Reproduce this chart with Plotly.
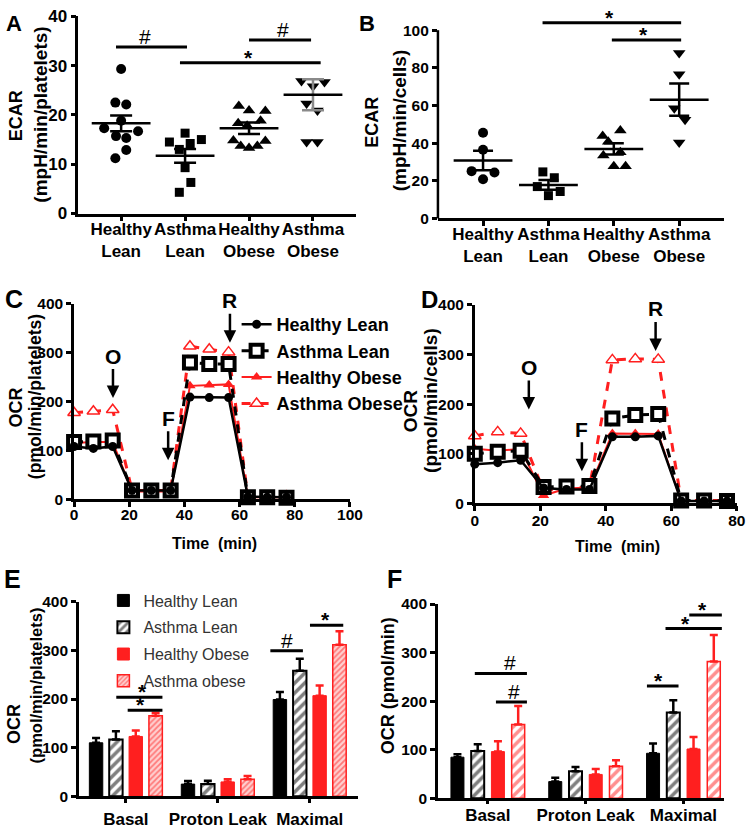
import plotly.graph_objects as go

W, H = 750, 830
FONT = "Arial, 'Liberation Sans', Helvetica, sans-serif"
RED = "#ff1f1f"
GRAY = "#8a8a8a"


def px(v):
    return v / W


def py(v):
    return 1 - v / H


# ---------------- data ----------------
groups = ["Healthy Lean", "Asthma Lean", "Healthy Obese", "Asthma Obese"]
group_ticks = ["Healthy<br>Lean", "Asthma<br>Lean", "Healthy<br>Obese", "Asthma<br>Obese"]

# Panel A: ECAR (mpH/min/platelets), individual subjects + jitter (category units)
a_hl = [29.3, 22.5, 22.1, 18.8, 17.3, 16.7, 15.7, 15.3, 12.9, 11.2]
a_hl_dx = [0, -0.09, 0.08, 0, -0.265, 0.265, -0.08, 0.08, 0.08, -0.09]
a_al = [16.3, 14.5, 15.0, 14.2, 13.0, 9.3, 6.3, 4.3]
a_al_dx = [0, -0.245, 0.255, 0.08, -0.09, 0, 0.09, -0.09]
a_ho = [21.8, 20.9, 20.8, 18.3, 17.8, 18.8, 14.8, 13.7, 13.3, 13.7, 14.7]
a_ho_dx = [-0.16, 0, 0.255, -0.17, -0.03, 0.18, -0.245, -0.13, 0, 0.13, 0.255]
a_ao = [26.9, 25.8, 26.7, 22.3, 20.9, 14.5, 14.5]
a_ao_dx = [-0.18, 0, 0.18, -0.1, 0.07, -0.1, 0.07]
a_mean = [18.3, 11.7, 17.3, 24.1]
a_sem = [1.6, 1.4, 1.15, 3.15]

# Panel B: ECAR (mpH/min/cells)
b_hl = [45.5, 36.5, 25.1, 24.4, 20.8]
b_hl_dx = [0, 0, -0.175, 0.175, 0]
b_al = [24.7, 21.6, 16.9, 14.3, 12.1]
b_al_dx = [-0.085, 0.09, -0.17, 0.18, 0]
b_ho = [46.7, 43.8, 40.7, 35.1, 33.4, 27.7, 27.7]
b_ho_dx = [0.1, -0.17, -0.085, 0.1, -0.16, 0, 0.18]
b_ao = [87.9, 76.6, 58.5, 52.4, 40.3]
b_ao_dx = [0, 0, -0.075, 0.09, 0]
b_mean = [30.8, 17.8, 36.9, 63.1]
b_sem = [5.2, 2.6, 3.0, 8.6]

# Panel C / D: OCR time course
time_min = [0, 7, 14, 21, 28, 35, 42, 49, 56, 63, 70, 77]
c_hl = [108, 104, 108, 18, 18, 18, 209, 208, 208, 5, 4, 4]
c_al = [117, 118, 120, 18, 18, 18, 280, 277, 277, 4, 4, 3]
c_ho = [115, 117, 117, 16, 16, 16, 232, 234, 235, 4, 4, 4]
c_ao = [177, 180, 183, 18, 18, 18, 313, 307, 301, 5, 5, 6]
d_hl = [79, 82, 87, 31, 28, 28, 134, 134, 136, 5, 5, 5]
d_al = [100, 104, 106, 33, 34, 35, 171, 178, 180, 6, 6, 5]
d_ho = [110, 106, 110, 16, 30, 32, 141, 141, 140, 5, 5, 5]
d_ao = [136, 144, 141, 26, 31, 32, 289, 291, 290, 6, 6, 6]
# injections: (label, time, OCR value at arrow tip)
c_inject = [("O", 14.1, 207), ("F", 34.1, 80), ("R", 56.5, 320)]
d_inject = [("O", 16.5, 189), ("F", 32.7, 65), ("R", 55.2, 307)]

# Panel E / F: bars (mean, SEM)
categories = ["Basal", "Proton Leak", "Maximal"]
bar_names = ["Healthy Lean", "Asthma Lean", "Healthy Obese", "Asthma obese"]
e_vals = [[110, 25, 199], [116.5, 25, 258], [123, 29.5, 207], [165.5, 35, 311.5]]
e_errs = [[10, 6.5, 15.5], [17, 7, 25], [12.5, 5.5, 21], [6.5, 6.6, 28]]
f_vals = [[84.5, 34.2, 92.6], [97.4, 55.7, 176.5], [96, 49, 101.4], [151.7, 65.8, 281.7]]
f_errs = [[6, 8, 20], [14, 8.7, 25.5], [21.5, 11.4, 24.6], [38.3, 12.2, 54.3]]

# significance brackets: (x0, x1, y, label, x_text)
a_sig = [(-0.08, 1.03, 33.8, "#", 0.38), (2.0, 2.97, 35.2, "#", 2.53), (0.92, 3.12, 30.6, "*", 1.99)]
b_sig = [(0.91, 3.03, 104, "*", 1.94), (1.97, 3.03, 94.8, "*", 2.46)]
e_sig = [(-0.104, 0.398, 203.8, "*", 0.18), (0.02, 0.398, 177, "*", 0.16),
         (1.572, 1.926, 299.5, "#", 1.755), (2.003, 2.365, 351.8, "*", 2.17)]
f_sig = [(-0.133, 0.40, 257, "#", 0.23), (0.083, 0.40, 198, "#", 0.267),
         (1.627, 1.95, 231.4, "*", 1.75), (1.817, 2.393, 349.5, "*", 2.017),
         (2.06, 2.393, 377.7, "*", 2.2)]

fig = go.Figure()

# ---------------- panels A & B (scatter) ----------------
syms = ["circle", "square", "triangle-up", "triangle-down"]
msize = [10, 9, 11, 11]


def scatter_panel(xa, ya, sets, means, sems, errcolors, mline, capw):
    for i, (vals, dx) in enumerate(sets):
        fig.add_trace(go.Scatter(
            x=[i + d for d in dx], y=vals, mode="markers", xaxis=xa, yaxis=ya,
            marker=dict(symbol=syms[i], size=msize[i], color="black"),
            showlegend=False, cliponaxis=False, hoverinfo="skip"))
    for i in range(4):
        fig.add_trace(go.Scatter(
            x=[i], y=[means[i]], mode="markers", xaxis=xa, yaxis=ya,
            marker=dict(symbol="line-ew", size=mline, line=dict(width=2.5, color="black")),
            error_y=dict(type="data", array=[sems[i]], width=capw, thickness=2.5,
                         color=errcolors[i]),
            showlegend=False, cliponaxis=False, hoverinfo="skip"))


scatter_panel("x", "y", [(a_hl, a_hl_dx), (a_al, a_al_dx), (a_ho, a_ho_dx), (a_ao, a_ao_dx)],
              a_mean, a_sem, ["black", "black", "black", GRAY], 42, 11)
scatter_panel("x2", "y2", [(b_hl, b_hl_dx), (b_al, b_al_dx), (b_ho, b_ho_dx), (b_ao, b_ao_dx)],
              b_mean, b_sem, ["black"] * 4, 42, 10)

# ---------------- panels C & D (time course) ----------------
line_styles = [
    dict(color="black", width=2.5, dash="solid"),
    dict(color="black", width=3, dash="dash"),
    dict(color=RED, width=2, dash="solid"),
    dict(color=RED, width=3, dash="dash"),
]
marker_styles = [
    dict(symbol="circle", size=9, color="black"),
    dict(symbol="square", size=12, color="white", line=dict(color="black", width=4)),
    dict(symbol="triangle-up", size=10, color=RED),
    dict(symbol="triangle-up", size=11, color="white", line=dict(color=RED, width=1.5)),
]


def time_panel(xa, ya, series, legend):
    for i in [3, 2, 1, 0]:
        fig.add_trace(go.Scatter(
            x=time_min, y=series[i], mode="lines+markers", xaxis=xa, yaxis=ya,
            name=groups[i], line=line_styles[i], marker=marker_styles[i],
            showlegend=legend, legend="legend", legendrank=i + 1,
            cliponaxis=False, hoverinfo="skip"))


time_panel("x3", "y3", [c_hl, c_al, c_ho, c_ao], True)
time_panel("x4", "y4", [d_hl, d_al, d_ho, d_ao], False)

# ---------------- panels E & F (bars) ----------------


def bar_panel(xa, ya, vals, errs, slot, width, legend, ao_pattern):
    fills = [
        dict(color="black", line=dict(color="black", width=1)),
        dict(color="white", line=dict(color="black", width=2),
             pattern=dict(shape="/", fgcolor="black", bgcolor="white", size=7, solidity=0.5)),
        dict(color=RED, line=dict(color=RED, width=1)),
        dict(color=ao_pattern["bgcolor"], line=dict(color=RED, width=1.5),
             pattern=dict(shape="/", fgcolor=RED, **ao_pattern)),
    ]
    errc = ["black", "black", RED, RED]
    for k in range(4):
        fig.add_trace(go.Bar(
            x=categories, y=vals[k], xaxis=xa, yaxis=ya, name=bar_names[k],
            width=width, offset=-2 * slot + k * slot + (slot - width) / 2,
            marker=fills[k],
            error_y=dict(type="data", symmetric=False, array=errs[k], arrayminus=[0, 0, 0],
                         color=errc[k], thickness=2.5, width=4),
            showlegend=legend, legend="legend2", legendgroup="g%d" % k,
            hoverinfo="skip"))


bar_panel("x5", "y5", e_vals, e_errs, 0.216, 0.146, True,
          dict(bgcolor="#ffd0d0", size=4, solidity=0.45))
bar_panel("x6", "y6", f_vals, f_errs, 0.207, 0.133, False,
          dict(bgcolor="white", size=7, solidity=0.5))

# ---------------- axes ----------------


def axis(domain, rng, anchor, size=15.5, **kw):
    d = dict(domain=domain, range=rng, anchor=anchor, showline=True, linecolor="black",
             linewidth=2.5, ticks="outside", ticklen=5, tickwidth=2.5, tickcolor="black",
             showgrid=False, zeroline=False, fixedrange=True, tickangle=0,
             tickfont=dict(family=FONT, size=size, color="black", weight="bold"))
    d.update(kw)
    return d


fig.update_layout(
    xaxis=axis([px(76), px(360)], [-0.67, 3.67], "y", size=17, tickmode="array",
               tickvals=[0, 1, 2, 3], ticktext=group_ticks, ticklabelstandoff=-7),
    yaxis=axis([py(209.3), py(7.5)], [0, 40], "x", size=17, tickvals=[0, 10, 20, 30, 40]),
    xaxis2=axis([px(444), px(737)], [-0.69, 3.69], "y2", size=17, tickmode="array",
                tickvals=[0, 1, 2, 3], ticktext=group_ticks, ticklabelstandoff=-7),
    yaxis2=axis([py(214.3), py(8.2)], [0, 107], "x2", tickvals=[0, 20, 40, 60, 80, 100],
                showline=False),
    xaxis3=axis([px(71.7), px(354)], [0, 100], "y3", tickvals=[0, 20, 40, 60, 80, 100],
                ticklabelstandoff=-6),
    yaxis3=axis([py(501.7), py(301.7)], [0, 400], "x3", tickvals=[0, 100, 200, 300, 400]),
    xaxis4=axis([px(481.7), 1.0], [0, 80.05], "y4", tickvals=[0, 20, 40, 60, 80],
                ticklabeloverflow="allow", ticklabelstandoff=-4),
    yaxis4=axis([py(506), py(302.7)], [0, 400], "x4", tickvals=[0, 100, 200, 300, 400]),
    xaxis5=axis([px(76.7), px(361.7)], [-0.51, 2.52], "y5", size=17, type="category",
                categoryorder="array", categoryarray=categories, ticklen=4,
                ticklabelstandoff=2),
    yaxis5=axis([py(805.7), py(606.7)], [0, 400], "x5", tickvals=[0, 100, 200, 300, 400]),
    xaxis6=axis([px(444), px(736.7)], [-0.51, 2.415], "y6", size=17, type="category",
                categoryorder="array", categoryarray=categories, ticklen=3,
                ticklabelstandoff=-3),
    yaxis6=axis([py(807.7), py(609)], [0, 400], "x6", tickvals=[0, 100, 200, 300, 400]),
)

# ---------------- shapes & annotations ----------------
shapes = [dict(type="line", xref="x2 domain", yref="y2 domain", x0=0, x1=0, y0=0,
               y1=100 / 107, line=dict(color="black", width=2.5))]
annotations = []


def add_sig(xa, ya, sigs):
    for x0, x1, y, lab, xt in sigs:
        shapes.append(dict(type="line", xref=xa, yref=ya, x0=x0, x1=x1, y0=y, y1=y,
                           line=dict(color="black", width=3)))
        annotations.append(dict(xref=xa, yref=ya, x=xt, y=y, text=lab, showarrow=False,
                                yanchor="bottom", yshift=-8 if lab == "*" else -3,
                                font=dict(family=FONT, size=21, color="black",
                                          weight="bold" if lab == "*" else "normal")))


add_sig("x", "y", a_sig)
add_sig("x2", "y2", b_sig)
add_sig("x5", "y5", e_sig)
add_sig("x6", "y6", f_sig)


def add_inject(xa, ya, inj):
    for lab, t, v in inj:
        annotations.append(dict(xref=xa, yref=ya, x=t, y=v, text=lab, showarrow=True,
                                ax=0, ay=-42, arrowhead=2, arrowsize=1, arrowwidth=2.5,
                                arrowcolor="black",
                                font=dict(family=FONT, size=21, color="black", weight="bold")))


add_inject("x3", "y3", c_inject)
add_inject("x4", "y4", d_inject)


def txt(x, y, s, size, angle=0, weight="bold", color="black"):
    annotations.append(dict(xref="paper", yref="paper", x=px(x), y=py(y), text=s,
                            showarrow=False, textangle=angle, xanchor="center",
                            yanchor="middle",
                            font=dict(family=FONT, size=size, color=color, weight=weight)))


# panel letters
for lab, x, y, s in [("A", 10, 15, 22), ("B", 371, 15, 22), ("C", 10, 297, 25),
                     ("D", 435, 297, 24), ("E", 9, 583, 25), ("F", 400, 583, 25)]:
    txt(x, y, lab, s)

# axis titles
txt(12, 109, "ECAR", 18, -90)
txt(37, 108, "(mpH/min/platelets)", 19, -90)
txt(377, 116, "ECAR", 18, -90)
txt(405, 114, "(mpH/min/cells)", 19, -90)
txt(12, 408, "OCR", 18, -90)
txt(32, 397, "(pmol/min/platelets)", 17.5, -90)
txt(416, 411, "OCR", 19, -90)
txt(437, 401, "(pmol/min/cells)", 19, -90)
txt(10, 732, "OCR", 18, -90)
txt(33, 692, "(pmol/min/platelets)", 16.5, -90)
txt(393, 693, "OCR (pmol/min)", 18, -90)
txt(215, 547, "Time\u00a0 (min)", 16)
txt(628, 550, "Time\u00a0 (min)", 16)

fig.update_layout(
    width=W, height=H, margin=dict(l=0, r=0, t=0, b=0),
    paper_bgcolor="white", plot_bgcolor="white", barmode="overlay",
    shapes=shapes, annotations=annotations, showlegend=True,
    legend=dict(x=px(238), y=py(304), xanchor="left", yanchor="top",
                bgcolor="rgba(0,0,0,0)", itemclick=False, itemdoubleclick=False,
                font=dict(family=FONT, size=18, color="black", weight="bold")),
    legend2=dict(x=px(101.7), y=py(588), xanchor="left", yanchor="top",
                 bgcolor="rgba(0,0,0,0)", traceorder="grouped", tracegroupgap=3,
                 itemclick=False, itemdoubleclick=False,
                 font=dict(family=FONT, size=16, color="#333333")),
)

fig.write_html("out.html", config={"displayModeBar": False},
               post_script="document.body.style.margin='0';"
                           "document.body.style.overflow='hidden';")
